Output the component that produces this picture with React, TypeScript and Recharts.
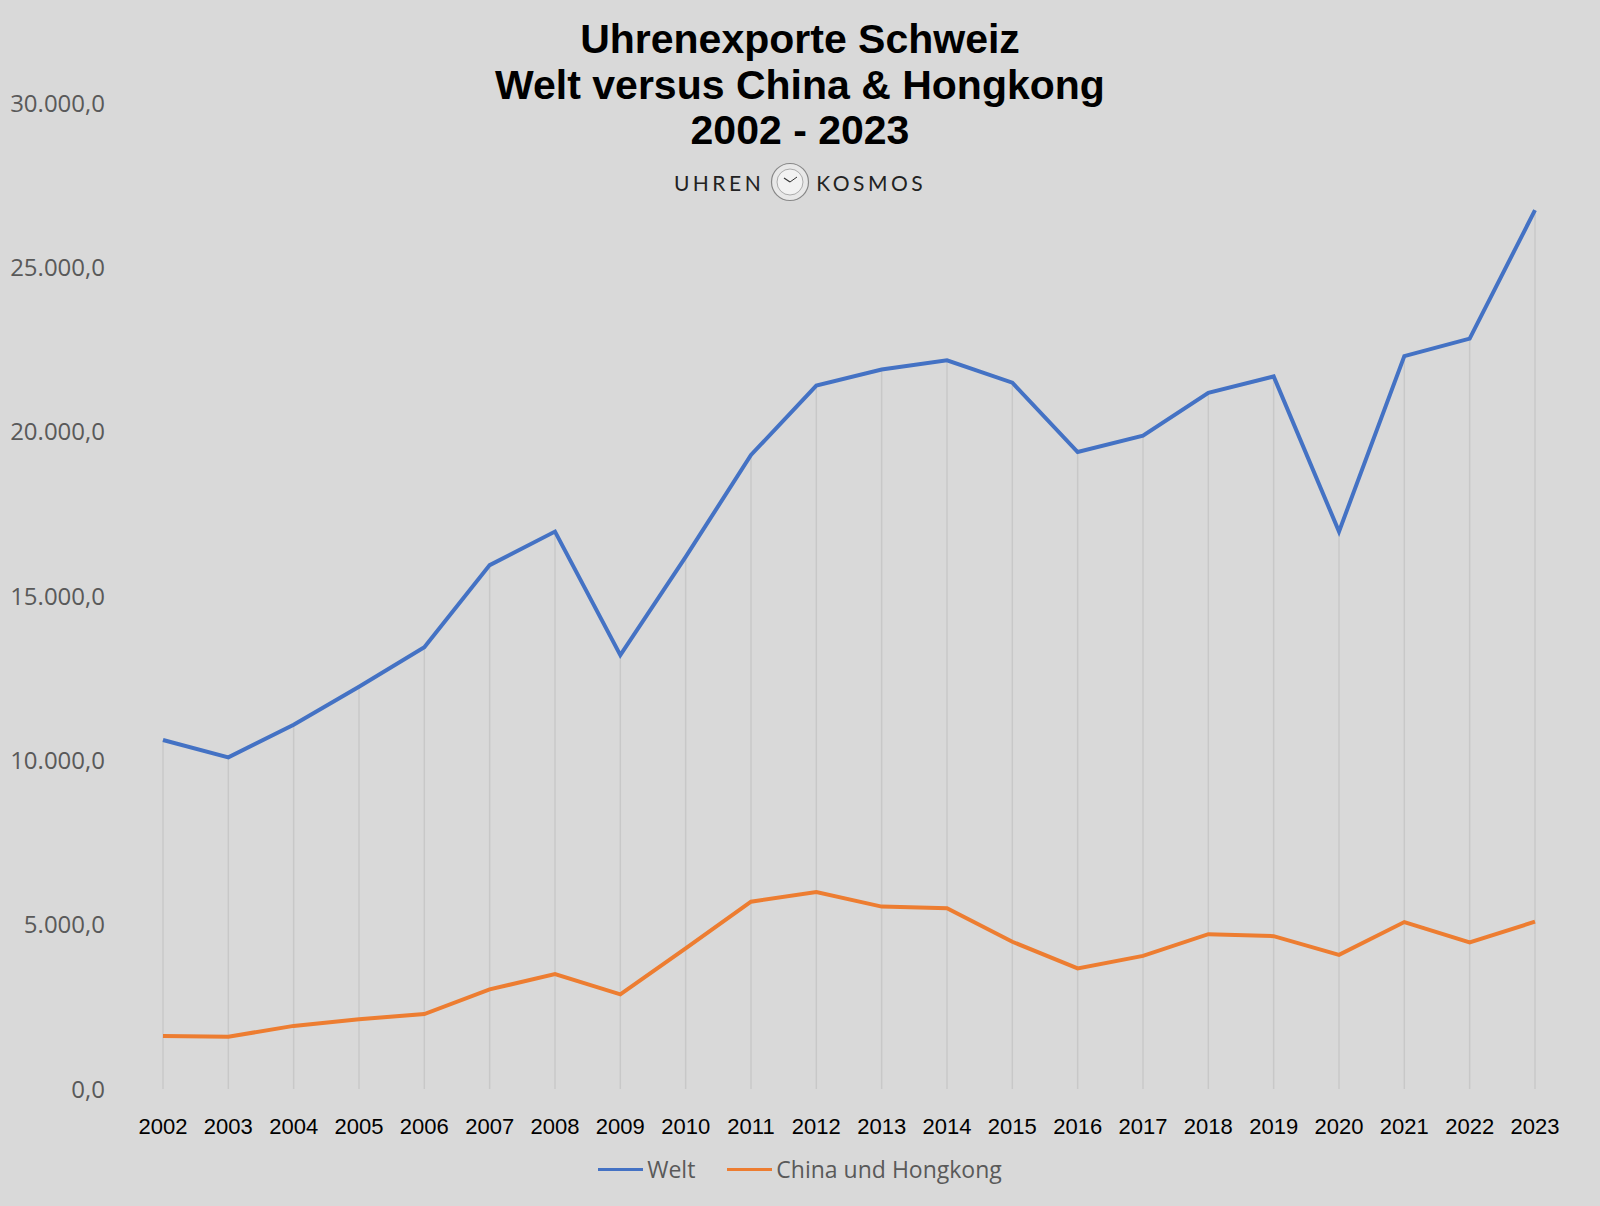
import { LineChart, Line, XAxis, YAxis, Legend, ReferenceLine } from 'recharts'

// Uhrenexporte Schweiz, Mio. CHF
const years = [
  '2002', '2003', '2004', '2005', '2006', '2007', '2008', '2009', '2010', '2011', '2012',
  '2013', '2014', '2015', '2016', '2017', '2018', '2019', '2020', '2021', '2022', '2023',
]
const welt = [
  10620, 10090, 11080, 12240, 13440, 15940, 16960, 13200, 16190, 19290, 21400,
  21890, 22170, 21490, 19380, 19880, 21180, 21680, 16960, 22300, 22830, 26740,
]
const chinaHk = [
  1610, 1590, 1920, 2120, 2280, 3030, 3500, 2880, 4280, 5700, 5990,
  5550, 5500, 4480, 3670, 4050, 4710, 4650, 4080, 5080, 4460, 5090,
]
const yTicks = [0, 5000, 10000, 15000, 20000, 25000, 30000]
const titleLines = ['Uhrenexporte Schweiz', 'Welt versus China & Hongkong', '2002 - 2023']
const legendOrder = ['Welt', 'China und Hongkong']

const fmt = (v: number) => {
  const [int, dec] = v.toFixed(1).split('.')
  return int.replace(/\B(?=(\d{3})+$)/g, '.') + ',' + dec
}

function LegendRow({ payload }: any) {
  const items = [...(payload || [])].sort(
    (a: any, b: any) => legendOrder.indexOf(a.value) - legendOrder.indexOf(b.value)
  )
  return (
    <div style={{ display: 'flex', justifyContent: 'center', alignItems: 'center', height: 38 }}>
      {items.map((p: any, i: number) => (
        <div key={p.value} style={{ display: 'flex', alignItems: 'center', marginLeft: i ? 32 : 0 }}>
          <span style={{ display: 'inline-block', width: 45, height: 3, background: p.color, marginRight: 4 }} />
          <span style={{ fontFamily: 'Open Sans', fontSize: 23, color: '#595959' }}>{p.value}</span>
        </div>
      ))}
    </div>
  )
}

function Logo() {
  return (
    <div
      style={{
        position: 'absolute', top: 162, left: 0, width: 1600, display: 'flex',
        justifyContent: 'center', alignItems: 'center', gap: 6,
        fontFamily: 'Lato', fontSize: 21, letterSpacing: 3.5, color: '#222',
      }}
    >
      <span>UHREN</span>
      <svg width={40} height={40} viewBox="0 0 40 40">
        <circle cx={20} cy={20} r={18.5} fill="#e8e8e8" stroke="#888" strokeWidth={1.2} />
        <circle cx={20} cy={20} r={13} fill="#f2f2f2" stroke="#999" strokeWidth={0.8} />
        <line x1={20} y1={20} x2={14} y2={16} stroke="#333" strokeWidth={1.2} />
        <line x1={20} y1={20} x2={27} y2={15} stroke="#333" strokeWidth={1} />
      </svg>
      <span>KOSMOS</span>
    </div>
  )
}

export default function App() {
  const data = years.map((year, i) => ({ year, welt: welt[i], china: chinaHk[i] }))

  return (
    <div
      style={{
        position: 'absolute', left: 0, top: 0, width: 1600, height: 1206,
        background: '#d9d9d9', overflow: 'hidden',
      }}
    >
      <LineChart width={1600} height={1206} data={data} margin={{ top: 103, right: 65, bottom: 29, left: 0 }}>
        <XAxis
          dataKey="year"
          interval={0}
          height={50}
          axisLine={false}
          tickLine={false}
          tickSize={0}
          tickMargin={29}
          tick={{ fill: '#000', fontSize: 22, fontFamily: 'Liberation Sans' }}
        />
        <YAxis
          domain={[0, 30000]}
          ticks={yTicks}
          width={163}
          axisLine={false}
          tickLine={false}
          tickSize={0}
          tickMargin={58}
          tickFormatter={fmt}
          tick={{ fill: '#595959', fontSize: 24, fontFamily: 'Open Sans' }}
        />
        {/* drop lines from the Welt series down to the axis */}
        {years.map((y, i) => (
          <ReferenceLine
            key={y}
            segment={[{ x: y, y: welt[i] }, { x: y, y: 0 }]}
            stroke="#c8c8c8"
            strokeWidth={1.5}
          />
        ))}
        <Line
          type="linear"
          dataKey="welt"
          name="Welt"
          stroke="#4472c4"
          strokeWidth={4}
          dot={false}
          activeDot={false}
          isAnimationActive={false}
        />
        <Line
          type="linear"
          dataKey="china"
          name="China und Hongkong"
          stroke="#ed7d31"
          strokeWidth={4}
          dot={false}
          activeDot={false}
          isAnimationActive={false}
        />
        <Legend
          verticalAlign="bottom"
          content={<LegendRow />}
          wrapperStyle={{ top: 1150, left: 0, width: 1600, height: 38 }}
        />
      </LineChart>

      <div
        style={{
          position: 'absolute', top: 17, left: 0, width: 1600, textAlign: 'center',
          fontFamily: 'Liberation Sans', fontWeight: 'bold', fontSize: 41, lineHeight: '45.5px', color: '#000',
        }}
      >
        {titleLines.map((t) => (
          <div key={t}>{t}</div>
        ))}
      </div>
      <Logo />
    </div>
  )
}
